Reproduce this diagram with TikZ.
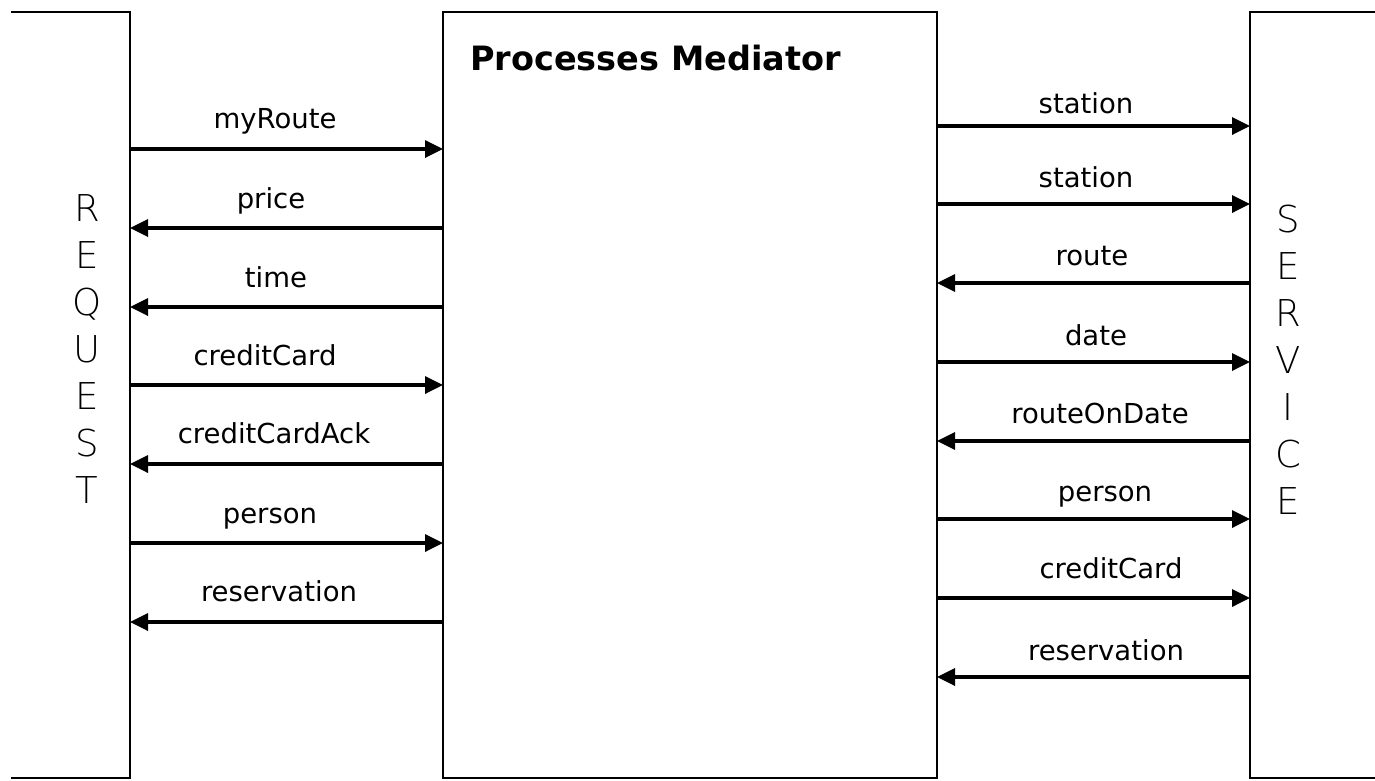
\documentclass[tikz,border=0pt]{standalone}
\usepackage{fontspec}
\setmainfont{DejaVu Sans}
\newfontfamily\thinfont{DejaVu Sans ExtraLight}
\usetikzlibrary{arrows.meta}
\begin{document}
\begin{tikzpicture}[x=1pt,y=-1pt,
  box/.style={draw, line width=1.8pt, rectangle, inner sep=0pt, outer sep=0pt},
  msg/.style={line width=3.4pt, -{Triangle[length=18pt,width=17pt]}},
  lbl/.style={font=\fontsize{27.5}{30}\selectfont, anchor=base, inner sep=0pt},
  side/.style={font=\thinfont\fontsize{37}{47}\selectfont, align=center, inner sep=0pt},
  ttl/.style={font=\bfseries\fontsize{33.5}{38}\selectfont, anchor=base west, inner sep=0pt}]
\useasboundingbox[fill=white] (0,0) rectangle (1375,780);
\clip (11,0) rectangle (1375,780);
% boxes
\node[box, minimum width=180pt, minimum height=766pt] (req) at (40,395) {};
\node[box, minimum width=494pt, minimum height=766pt] (med) at (690,395) {};
\node[box, minimum width=180pt, minimum height=766pt] (srv) at (1340,395) {};
% side labels
\node[side] (reqtxt) at (87,349.5) {R\\E\\Q\\U\\E\\S\\T};
\node[side] (srvtxt) at (1288,359.5) {S\\E\\R\\V\\I\\C\\E};
\node[ttl] (title) at (470,70) {Processes Mediator};
% left messages
\draw[msg] (req.east |- 0,149) -- (med.west |- 0,149);
\draw[msg] (med.west |- 0,228) -- (req.east |- 0,228);
\draw[msg] (med.west |- 0,307) -- (req.east |- 0,307);
\draw[msg] (req.east |- 0,385) -- (med.west |- 0,385);
\draw[msg] (med.west |- 0,464) -- (req.east |- 0,464);
\draw[msg] (req.east |- 0,543) -- (med.west |- 0,543);
\draw[msg] (med.west |- 0,622) -- (req.east |- 0,622);
\node[lbl] (l1) at (275,128) {myRoute};
\node[lbl] (l2) at (271,208) {price};
\node[lbl] (l3) at (276,287) {time};
\node[lbl] (l4) at (265,365) {creditCard};
\node[lbl] (l5) at (274,443) {creditCardAck};
\node[lbl] (l6) at (270,523) {person};
\node[lbl] (l7) at (279,601) {reservation};
% right messages
\draw[msg] (med.east |- 0,126) -- (srv.west |- 0,126);
\draw[msg] (med.east |- 0,204) -- (srv.west |- 0,204);
\draw[msg] (srv.west |- 0,283) -- (med.east |- 0,283);
\draw[msg] (med.east |- 0,362) -- (srv.west |- 0,362);
\draw[msg] (srv.west |- 0,441) -- (med.east |- 0,441);
\draw[msg] (med.east |- 0,519) -- (srv.west |- 0,519);
\draw[msg] (med.east |- 0,598) -- (srv.west |- 0,598);
\draw[msg] (srv.west |- 0,677) -- (med.east |- 0,677);
\node[lbl] (r1) at (1086,113) {station};
\node[lbl] (r2) at (1086,187) {station};
\node[lbl] (r3) at (1092,265) {route};
\node[lbl] (r4) at (1096,345) {date};
\node[lbl] (r5) at (1100,423) {routeOnDate};
\node[lbl] (r6) at (1105,501) {person};
\node[lbl] (r7) at (1111,578) {creditCard};
\node[lbl] (r8) at (1106,660) {reservation};
\end{tikzpicture}
\end{document}
